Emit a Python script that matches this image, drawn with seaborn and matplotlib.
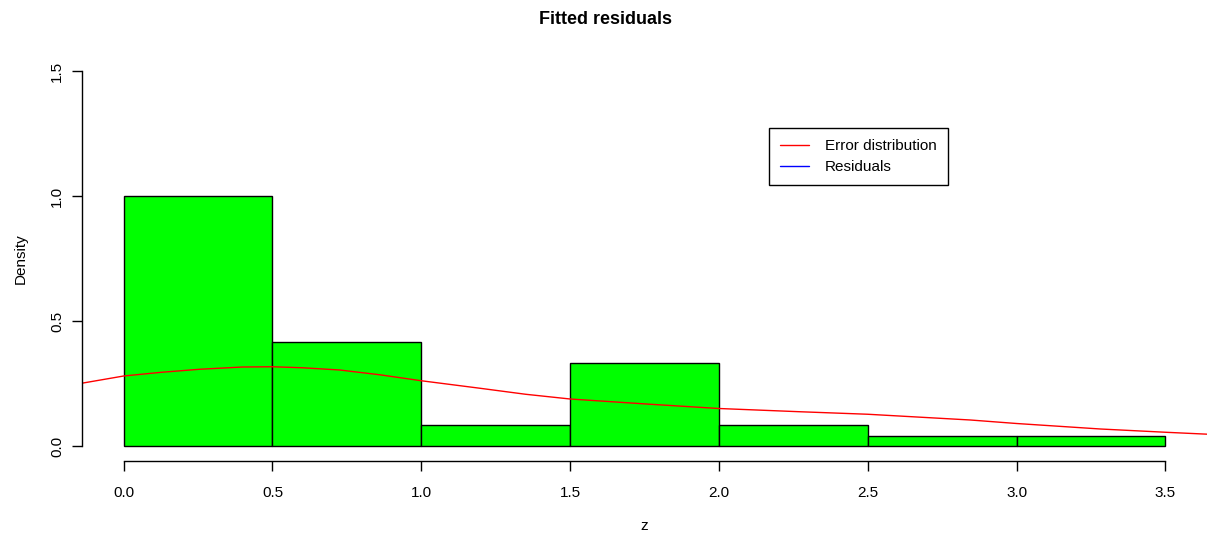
import numpy as np
import pandas as pd
import matplotlib
matplotlib.use("Agg")
import matplotlib.pyplot as plt
import seaborn as sns
from matplotlib.lines import Line2D

# --- data ---
bin_edges = [0.0, 0.5, 1.0, 1.5, 2.0, 2.5, 3.0, 3.5]
bin_centers = [0.25, 0.75, 1.25, 1.75, 2.25, 2.75, 3.25]
bin_counts = [24, 10, 2, 8, 2, 1, 1]

curve_x = [-0.141, 0.0, 0.128, 0.256, 0.4, 0.5, 0.6, 0.726, 0.86, 1.0, 1.197, 1.35,
           1.5, 1.769, 2.0, 2.273, 2.5, 2.845, 3.0, 3.282, 3.5, 3.645]
curve_y = [0.251, 0.280, 0.295, 0.307, 0.316, 0.317, 0.313, 0.304, 0.285, 0.261,
           0.231, 0.207, 0.188, 0.167, 0.150, 0.137, 0.127, 0.104, 0.090, 0.068,
           0.055, 0.047]

x_ticks = [0.0, 0.5, 1.0, 1.5, 2.0, 2.5, 3.0, 3.5]
y_ticks = [0.0, 0.5, 1.0, 1.5]

sns.set_theme(style="white")
plt.rcParams['font.family'] = ['Liberation Sans', 'DejaVu Sans']
plt.rcParams['text.color'] = 'black'
plt.rcParams['axes.labelcolor'] = 'black'
plt.rcParams['xtick.color'] = 'black'
plt.rcParams['ytick.color'] = 'black'

fig = plt.figure(figsize=(12.11, 5.38), dpi=100)
ax = fig.add_axes([82/1211, 1-461/538, 1125/1211, 405/538])

df = pd.DataFrame({"z": np.repeat(bin_centers, bin_counts)})
sns.histplot(data=df, x="z", bins=bin_edges, stat="density", ax=ax,
             color="#00FF00", edgecolor="black", linewidth=1.0, alpha=1.0)

sns.lineplot(x=curve_x, y=curve_y, color="red", linewidth=1.0, ax=ax,
             sort=False, estimator=None)

ax.set_xlim(-0.14, 3.64)
ax.set_ylim(-0.06, 1.56)

for s in ["top", "right"]:
    ax.spines[s].set_visible(False)
ax.spines["left"].set_bounds(0, 1.5)
ax.spines["bottom"].set_bounds(0, 3.5)
for s in ["left", "bottom"]:
    ax.spines[s].set_color("black")
    ax.spines[s].set_linewidth(1.0)

ax.set_xticks(x_ticks)
ax.set_xticklabels([f"{t:.1f}" for t in x_ticks])
ax.set_yticks(y_ticks)
ax.set_yticklabels([f"{t:.1f}" for t in y_ticks], rotation=90, va="center")
ax.tick_params(axis="both", which="major", direction="out", length=7,
               width=1.0, color="black", labelsize=11, left=True, bottom=True)
ax.tick_params(axis="x", pad=11)
ax.tick_params(axis="y", pad=6)

ax.set_xlabel("z", fontsize=11, labelpad=14)
ax.set_ylabel("Density", fontsize=11, labelpad=16)
fig.suptitle("Fitted residuals", fontsize=13, fontweight="bold", y=1-19/538,
             va="center", color="black")

handles = [Line2D([0], [0], color="red", lw=1.0),
           Line2D([0], [0], color="blue", lw=1.0)]
leg = ax.legend(handles, ["Error distribution", "Residuals"], loc="upper left",
                bbox_to_anchor=(0.6107, 0.822), borderaxespad=0, fontsize=11,
                frameon=True, fancybox=False, handlelength=1.9, handletextpad=1.05,
                labelspacing=0.45, borderpad=0.72)
leg.get_frame().set_edgecolor("black")
leg.get_frame().set_linewidth(1.0)
leg.get_frame().set_alpha(1.0)

fig.savefig("out.png", dpi=100)
